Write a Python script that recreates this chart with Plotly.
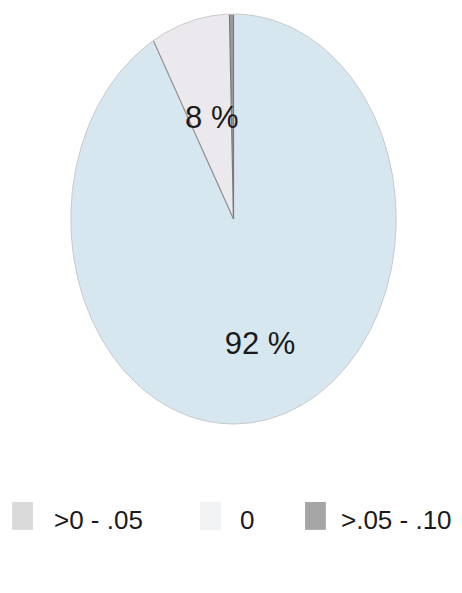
import numpy as np
import plotly.graph_objects as go

# slice data, in drawing order (counterclockwise from 12 o'clock)
categories = [">.05 - .10", ">0 - .05", "0"]
shares = [0.4, 7.8, 91.8]
slice_colors = ["#9c9c9c", "#ece9ee", "#d6e7f0"]
label_radius = [0.5, 0.5, 0.64]

# legend order as shown under the pie
legend_order = [">0 - .05", "0", ">.05 - .10"]
legend_colors = {">0 - .05": "#dadada", "0": "#f1f3f4", ">.05 - .10": "#a6a6a6"}

FONT = "Liberation Sans, Arial, sans-serif"

fig = go.Figure()

total = sum(shares)
start = 0.0
edges = [0.0]
labels = []
for cat, val, col, rl in zip(categories, shares, slice_colors, label_radius):
    a0 = start / total * 2 * np.pi
    a1 = (start + val) / total * 2 * np.pi
    t = np.linspace(a0, a1, max(4, int(400 * val / total)))
    xs = np.concatenate([[0], -np.sin(t), [0]])
    ys = np.concatenate([[0], np.cos(t), [0]])
    fig.add_trace(go.Scatter(x=xs, y=ys, fill="toself", fillcolor=col,
                             line=dict(width=0), mode="lines",
                             showlegend=False, hoverinfo="skip"))
    if val >= 1:
        mid = (a0 + a1) / 2
        labels.append((-rl * np.sin(mid), rl * np.cos(mid), f"{round(val)} %"))
    start += val
    edges.append(a1)

# radial separators
for i, a in enumerate(edges[:-1]):
    col = "#7a7a7a" if i < 2 else "#8c8c8c"
    fig.add_trace(go.Scatter(x=[0, -np.sin(a)], y=[0, np.cos(a)], mode="lines",
                             line=dict(color=col, width=1.2),
                             showlegend=False, hoverinfo="skip"))

# outer rim
t = np.linspace(0, 2 * np.pi, 400)
fig.add_trace(go.Scatter(x=np.cos(t), y=np.sin(t), mode="lines",
                         line=dict(color="#c9c9c9", width=1),
                         showlegend=False, hoverinfo="skip"))

# slice labels on top
fig.add_trace(go.Scatter(x=[l[0] for l in labels], y=[l[1] for l in labels],
                         mode="text", text=[l[2] for l in labels],
                         textposition="middle center",
                         textfont=dict(family=FONT, size=31, color="#1a1a1a"),
                         showlegend=False, hoverinfo="skip"))

# manual legend
box_x = [0.009, 0.416, 0.643]
txt_x = [0.095, 0.498, 0.717]
for i, name in enumerate(legend_order):
    fig.add_shape(type="rect", xref="paper", yref="paper",
                  x0=box_x[i], x1=box_x[i] + 0.045, y0=0.12, y1=0.167,
                  fillcolor=legend_colors[name], line=dict(width=0))
    fig.add_annotation(x=txt_x[i], y=0.1366, xref="paper", yref="paper",
                       text=name, showarrow=False, xanchor="left", yanchor="middle",
                       font=dict(family=FONT, size=26, color="#1a1a1a"))

fig.update_xaxes(range=[-1.005, 1.005], domain=[0.1342, 0.842], visible=False)
fig.update_yaxes(range=[-1.005, 1.005], domain=[0.2968, 0.9916], visible=False)

fig.update_layout(
    width=462,
    height=593,
    margin=dict(l=0, r=0, t=0, b=0),
    paper_bgcolor="white",
    plot_bgcolor="white",
    showlegend=False,
)

fig.write_html("out.html")
